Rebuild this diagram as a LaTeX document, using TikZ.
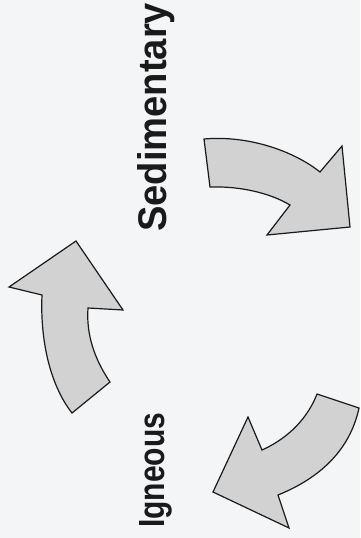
\documentclass[tikz,border=0pt]{standalone}
\usepackage{xcolor}
\usepackage{tikz}
\usepackage{fontspec}
\setmainfont{Liberation Sans}
\definecolor{Paper}{HTML}{F4F5F7}
\definecolor{Stone}{HTML}{D2D2D2}
\definecolor{Ink}{HTML}{1A1A1A}

\begin{document}
\begin{tikzpicture}[x=1pt,y=-1pt]
      \tikzstyle{rockname}=[inner sep=0pt, rotate=90, anchor=base west, text=Ink,
        font=\bfseries]
      \tikzstyle{bigarrow}=[fill=Stone, draw=Ink, line width=1.2pt, line join=miter]
      \fill[Paper] (0,0) rectangle (360,538);
      \useasboundingbox (0,0) rectangle (360,538);
      % labels
      \node[rockname] (sed) at (166,232) {\resizebox{229pt}{29pt}{Sedimentary}};
      \node[rockname] (ign) at (164,528) {\resizebox{115pt}{25pt}{Igneous}};
      % top right arrow
      \draw[bigarrow] (204,139) .. controls (250,135) and (295,152) .. (320,172)
        -- (342,146) -- (350,227) -- (267,235) -- (290,205)
        .. controls (270,193) and (240,186) .. (210,187) -- cycle;
      % left arrow
      \draw[bigarrow] (72,413) -- (110,382)
        .. controls (95,360) and (86,335) .. (88,308)
        -- (123,310) -- (76,241) -- (9,287) -- (42,295)
        .. controls (40,340) and (50,385) .. cycle;
      % bottom right arrow
      \draw[bigarrow] (317,394) -- (359,408)
        .. controls (350,450) and (320,478) .. (278,495)
        -- (289,528) -- (213,492) -- (248,417) -- (262,450)
        .. controls (280,442) and (305,425) .. cycle;
    \end{tikzpicture}
\end{document}
